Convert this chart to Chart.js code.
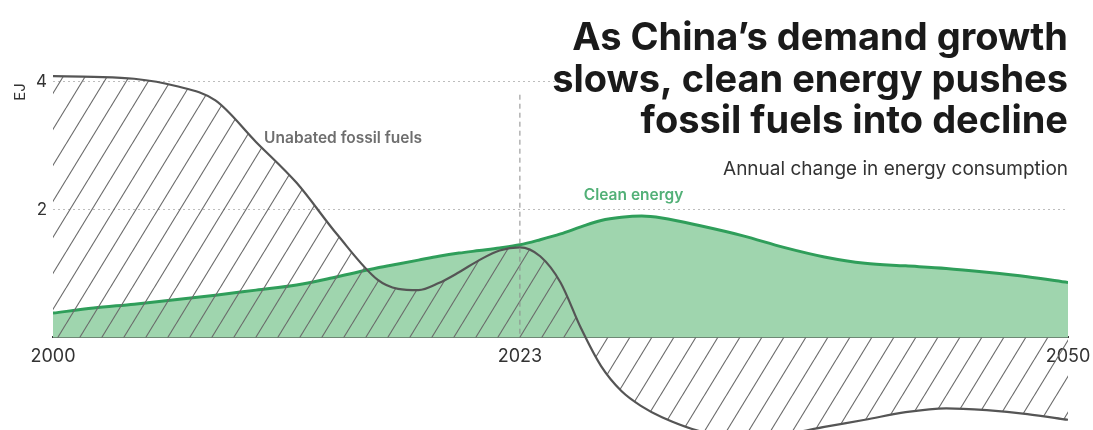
<!DOCTYPE html>
<html>
<head>
<meta charset="utf-8">
<script src="https://cdn.jsdelivr.net/npm/chart.js@4.4.1/dist/chart.umd.min.js"></script>
<style>
  html, body { margin: 0; padding: 0; background: #fff; overflow: hidden; }
  #wrap { width: 1093px; height: 430px; }
</style>
</head>
<body>
<div id="wrap"><canvas id="energy" width="1093" height="430"></canvas></div>
<script>
(function () {
  "use strict";

  // Data (EJ, annual change)
  const years       = [2000, 2002, 2004, 2006, 2008, 2010, 2012, 2014, 2016, 2017, 2018, 2019, 2020, 2021, 2022, 2023,
                       2024, 2025, 2026, 2027, 2028, 2029, 2030, 2032, 2034, 2036, 2038, 2040, 2042, 2044, 2046, 2048, 2050];
  const fossilFuels = [4.09, 4.08, 4.05, 3.94, 3.71, 3.06, 2.42, 1.61, 0.90, 0.76, 0.74, 0.85, 1.02, 1.21, 1.36, 1.41,
                       1.27, 0.86, 0.15, -0.45, -0.84, -1.08, -1.25, -1.48, -1.56, -1.52, -1.40, -1.29, -1.17, -1.11, -1.14, -1.20, -1.29];
  const cleanEnergy = [0.38, 0.46, 0.52, 0.59, 0.66, 0.74, 0.82, 0.95, 1.09, 1.15, 1.21, 1.27, 1.32, 1.36, 1.40, 1.45,
                       1.53, 1.62, 1.73, 1.83, 1.88, 1.90, 1.87, 1.74, 1.59, 1.41, 1.26, 1.16, 1.12, 1.08, 1.02, 0.95, 0.86];
  const xTicks = [2000, 2023, 2050];
  const yTicks = [2, 4];
  const splitYear = 2023;

  const titleLines = ["As China\u2019s demand growth", "slows, clean energy pushes", "fossil fuels into decline"];
  const subtitle = "Annual change in energy consumption";
  const unitLabel = "EJ";

  const FONT = "Inter, 'Noto Sans', sans-serif";

  const canvas = document.getElementById("energy");
  const ctx = canvas.getContext("2d");

  // diagonal hatch for the fossil area
  function makeHatch() {
    const tile = document.createElement("canvas");
    tile.width = 22;
    tile.height = 36;
    const g = tile.getContext("2d");
    g.strokeStyle = "#6a6a6a";
    g.lineWidth = 1.1;
    for (let k = 0; k < 3; k++) {
      g.beginPath();
      g.moveTo(k * 22, 0);
      g.lineTo(k * 22 - 22, 36);
      g.stroke();
    }
    return ctx.createPattern(tile, "repeat");
  }

  const toPoints = (vals) => years.map((x, i) => ({ x: x, y: vals[i] }));

  // text, split marker and the white box behind the headline
  const overlay = {
    id: "overlay",
    afterDatasetsDraw(chart) {
      const c = chart.ctx;
      const xs = chart.scales.x, ys = chart.scales.y;
      const px = xs.getPixelForValue(splitYear);
      c.save();
      c.strokeStyle = "#8a8a8a";
      c.lineWidth = 1;
      c.setLineDash([5, 4]);
      c.beginPath();
      c.moveTo(px, ys.getPixelForValue(3.8));
      c.lineTo(px, ys.getPixelForValue(0));
      c.stroke();
      c.restore();
    },
    afterDraw(chart) {
      const c = chart.ctx;
      const area = chart.chartArea;
      const xs = chart.scales.x, ys = chart.scales.y;
      c.save();
      c.fillStyle = "#fff";
      c.fillRect(555, 0, chart.width - 555, 140);

      c.fillStyle = "#1a1a1a";
      c.textAlign = "right";
      c.textBaseline = "alphabetic";
      c.font = "700 38px " + FONT;
      titleLines.forEach((t, i) => c.fillText(t, area.right, 50 + i * 41.5));

      c.fillStyle = "#333";
      c.font = "400 19px " + FONT;
      c.fillText(subtitle, area.right, 175);

      c.textAlign = "left";
      c.fillStyle = "#6e6e6e";
      c.font = "600 15.5px " + FONT;
      c.fillText("Unabated fossil fuels", xs.getPixelForValue(2010.4), ys.getPixelForValue(3.04));

      c.textAlign = "center";
      c.fillStyle = "#52b077";
      c.fillText("Clean energy", xs.getPixelForValue(2028.6), ys.getPixelForValue(2.15));

      c.translate(20, 92);
      c.rotate(-Math.PI / 2);
      c.fillStyle = "#333";
      c.font = "400 15px " + FONT;
      c.textBaseline = "middle";
      c.fillText(unitLabel, 0, 0);
      c.restore();
    }
  };

  new Chart(ctx, {
    type: "line",
    data: {
      datasets: [{
        label: "Unabated fossil fuels",
        data: toPoints(fossilFuels),
        borderColor: "#555",
        borderWidth: 2.2,
        backgroundColor: makeHatch(),
        fill: "origin",
        pointRadius: 0,
        cubicInterpolationMode: "monotone"
      }, {
        label: "Clean energy",
        data: toPoints(cleanEnergy),
        borderColor: "#2f9e5a",
        borderWidth: 3,
        backgroundColor: "#9fd5ae",
        fill: "origin",
        pointRadius: 0,
        cubicInterpolationMode: "monotone"
      }]
    },
    options: {
      responsive: false,
      animation: false,
      devicePixelRatio: 1,
      layout: { padding: { top: 50, right: 25, bottom: 0, left: 0 } },
      plugins: {
        legend: { display: false },
        tooltip: { enabled: false }
      },
      scales: {
        x: {
          type: "linear",
          min: 2000,
          max: 2050,
          position: { y: 0 },
          afterBuildTicks: (s) => { s.ticks = xTicks.map((v) => ({ value: v })); },
          afterFit: (s) => {
            s.height = 0;
            s.paddingLeft = 0;
            s.paddingRight = 0;
            s.paddingTop = 0;
            s.paddingBottom = 0;
          },
          grid: { drawOnChartArea: false, drawTicks: false, color: "rgba(0,0,0,0)" },
          border: { display: true, color: "#3d3d3d", width: 2 },
          ticks: {
            font: { family: FONT, size: 18 },
            color: "#333",
            padding: 8,
            maxRotation: 0,
            autoSkip: false,
            callback: (v) => String(v)
          }
        },
        y: {
          min: -1.45,
          max: 4.5,
          afterBuildTicks: (s) => { s.ticks = yTicks.map((v) => ({ value: v })); },
          afterFit: (s) => {
            s.width = 53;
            s.paddingTop = 0;
            s.paddingBottom = 0;
          },
          grid: { color: "#bdbdbd", lineWidth: 1, drawTicks: false },
          border: { display: false, dash: [2, 3] },
          ticks: {
            font: { family: FONT, size: 17 },
            color: "#333",
            padding: 6
          }
        }
      }
    },
    plugins: [overlay]
  });
})();
</script>
</body>
</html>
